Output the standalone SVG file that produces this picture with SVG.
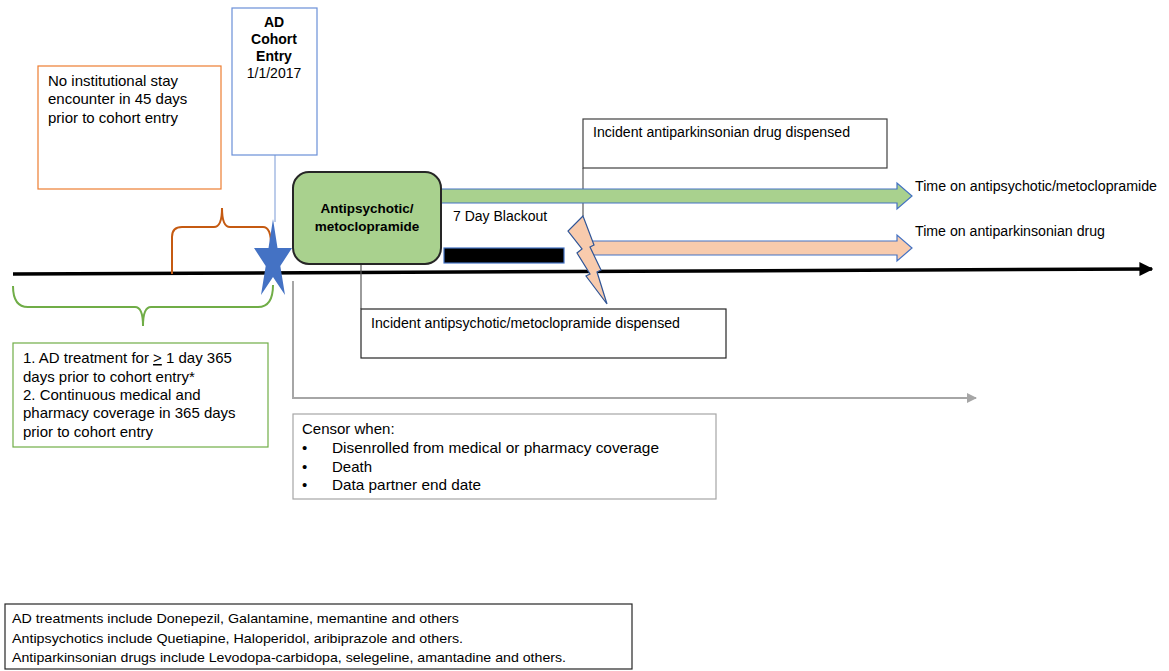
<svg xmlns="http://www.w3.org/2000/svg" width="1169" height="671" viewBox="0 0 1169 671">
<defs>
<style>
text{font-family:"Liberation Sans",Arial,sans-serif;fill:#000}
.t15{font-size:15px}
.t14{font-size:14px}
.b{font-weight:bold}
.box{fill:#fff;stroke-width:1.2}
</style>
<marker id="blk" viewBox="0 0 10 10" refX="9" refY="5" markerWidth="4" markerHeight="4" orient="auto" markerUnits="strokeWidth"><path d="M0,0 L10,5 L0,10 Z" fill="#000"/></marker>
<marker id="gry" viewBox="0 0 10 10" refX="9" refY="5" markerWidth="5" markerHeight="5" orient="auto" markerUnits="strokeWidth"><path d="M0,0 L10,5 L0,10 Z" fill="#A6A6A6"/></marker>
</defs>
<rect width="1169" height="671" fill="#fff"/>

<g id="connectors" fill="none">
<line x1="13" y1="274" x2="1152" y2="269" stroke="#000" stroke-width="3.5" marker-end="url(#blk)"/>
<line x1="275" y1="155" x2="275" y2="222" stroke="#8FAADC" stroke-width="1.2"/>
<line x1="361" y1="264" x2="361" y2="309" stroke="#595959" stroke-width="1.2"/>
<line x1="583" y1="168" x2="583" y2="216" stroke="#595959" stroke-width="1.2"/>
<polyline points="293,281 293,398 976,398" stroke="#A6A6A6" stroke-width="2" marker-end="url(#gry)"/>
<path d="M13,286 Q13,307 28,307 L135,307 Q143,307 143,326 Q143,307 151,307 L258,307 Q273,307 273,285" stroke="#70AD47" stroke-width="2"/>
<path d="M172,274 L172,237 Q172,227 182,227 L214,227 Q222,227 222,208 Q222,227 230,227 L263,227 Q271,227 271,245" stroke="#C55A11" stroke-width="2"/>
</g>

<g id="orange-box">
<rect class="box" x="38" y="66" width="183" height="123" stroke="#ED7D31"/>
<text class="t15" x="48" y="86">No institutional stay</text>
<text class="t15" x="48" y="104">encounter in 45 days</text>
<text class="t15" x="48" y="123">prior to cohort entry</text>
</g>

<g id="cohort-entry">
<rect class="box" x="232" y="8" width="85" height="147" stroke="#6A8FD8"/>
<text class="t14 b" x="274" y="27" text-anchor="middle">AD</text>
<text class="t14 b" x="274" y="44" text-anchor="middle">Cohort</text>
<text class="t14 b" x="274" y="61" text-anchor="middle">Entry</text>
<text class="t14" x="274" y="78" text-anchor="middle">1/1/2017</text>
</g>

<g id="star">
<polygon points="273,219 277.5,248 292,248 280.3,266 285,295 273,277 261,295 265.7,266 254,248 268.5,248" fill="#4472C4"/>
</g>

<g id="green-arrow">
<polygon points="440,189 897,189 897,183 912,196 897,209 897,203 440,203" fill="#A9D18E" stroke="#4472C4" stroke-width="1.2"/>
<text class="t14" x="915" y="191" textLength="242" lengthAdjust="spacingAndGlyphs">Time on antipsychotic/metoclopramide</text>
</g>

<g id="peach-arrow">
<polygon points="588,241 897,241 897,235 912,248 897,261 897,255 588,255" fill="#F8CBAD" stroke="#4472C4" stroke-width="1.2"/>
<text class="t14" x="915" y="236" textLength="190" lengthAdjust="spacingAndGlyphs">Time on antiparkinsonian drug</text>
</g>

<g id="lightning">
<polygon points="583,216 568,231 582,249 577,253 590,274 586,276 607,304 597,272 601,270 590,247 594,245" fill="#F8CBAD" stroke="#2F5597" stroke-width="1.2" stroke-linejoin="miter"/>
</g>

<g id="antipsychotic-node">
<rect x="293" y="172" width="148" height="92" rx="16" ry="16" fill="#A9D18E" stroke="#262626" stroke-width="2"/>
<text class="b" font-size="13.5" x="367" y="213" text-anchor="middle">Antipsychotic/</text>
<text class="b" font-size="13.5" x="367" y="231" text-anchor="middle">metoclopramide</text>
</g>

<g id="blackout">
<text class="t14" x="453" y="221">7 Day Blackout</text>
<rect x="444" y="248" width="120" height="15" fill="#000" stroke="#4472C4" stroke-width="1.2"/>
</g>

<g id="antiparkinsonian-box">
<rect class="box" x="583" y="119" width="304" height="49" stroke="#404040"/>
<text class="t14" x="593" y="137" textLength="257" lengthAdjust="spacingAndGlyphs">Incident antiparkinsonian drug dispensed</text>
</g>

<g id="antipsychotic-box">
<rect class="box" x="361" y="309" width="365" height="49" stroke="#262626"/>
<text class="t14" x="371" y="328" textLength="309" lengthAdjust="spacingAndGlyphs">Incident antipsychotic/metoclopramide dispensed</text>
</g>

<g id="criteria-box">
<rect class="box" x="13" y="343" width="255" height="104" stroke="#70AD47"/>
<text class="t15" x="23" y="363">1. AD treatment for <tspan text-decoration="underline">&gt;</tspan> 1 day 365</text>
<text class="t15" x="23" y="382">days prior to cohort entry*</text>
<text class="t15" x="23" y="400">2. Continuous medical and</text>
<text class="t15" x="23" y="418">pharmacy coverage in 365 days</text>
<text class="t15" x="23" y="437">prior to cohort entry</text>
</g>

<g id="censor-box">
<rect class="box" x="293" y="414" width="423" height="85" stroke="#A6A6A6"/>
<text class="t15" x="302" y="434">Censor when:</text>
<text class="t15" x="302" y="453">•</text>
<text class="t15" x="332" y="453" textLength="327" lengthAdjust="spacingAndGlyphs">Disenrolled from medical or pharmacy coverage</text>
<text class="t15" x="302" y="472">•</text>
<text class="t15" x="332" y="472" textLength="40" lengthAdjust="spacingAndGlyphs">Death</text>
<text class="t15" x="302" y="490">•</text>
<text class="t15" x="332" y="490" textLength="149" lengthAdjust="spacingAndGlyphs">Data partner end date</text>
</g>

<g id="footnote">
<rect class="box" x="5" y="604" width="627" height="65" stroke="#262626"/>
<text font-size="13.5" x="12" y="623" textLength="447" lengthAdjust="spacingAndGlyphs">AD treatments include Donepezil, Galantamine, memantine and others</text>
<text font-size="13.5" x="12" y="643" textLength="451" lengthAdjust="spacingAndGlyphs">Antipsychotics include Quetiapine, Haloperidol, aribiprazole and others.</text>
<text font-size="13.5" x="12" y="662" textLength="554" lengthAdjust="spacingAndGlyphs">Antiparkinsonian drugs include Levodopa-carbidopa, selegeline, amantadine and others.</text>
</g>
</svg>
